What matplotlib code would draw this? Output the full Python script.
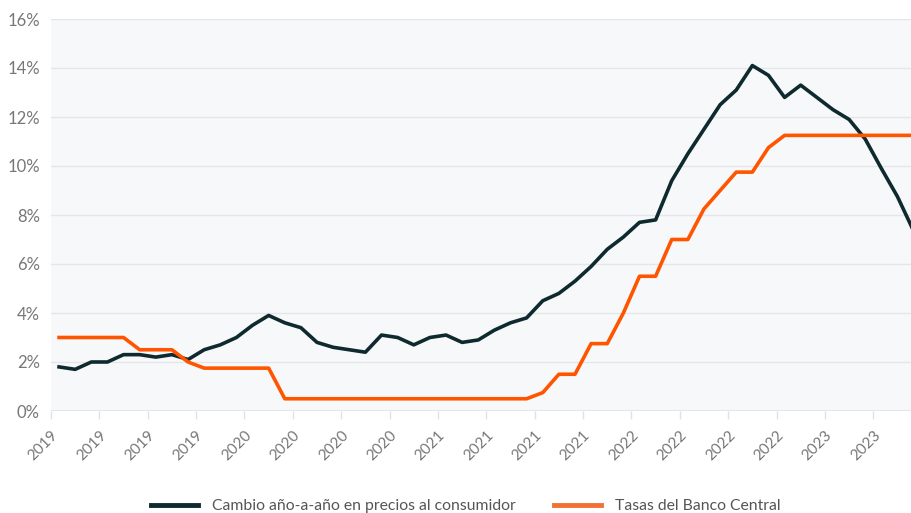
import matplotlib
matplotlib.use("Agg")
import matplotlib.pyplot as plt
from matplotlib.lines import Line2D
import numpy as np

plt.rcParams['font.family'] = ['Lato', 'DejaVu Sans']

# Monthly data, Jan 2019 onward
cpi = [1.8, 1.7, 2.0, 2.0, 2.3, 2.3, 2.2, 2.3, 2.1, 2.5, 2.7, 3.0,
       3.5, 3.9, 3.6, 3.4, 2.8, 2.6, 2.5, 2.4, 3.1, 3.0, 2.7, 3.0,
       3.1, 2.8, 2.9, 3.3, 3.6, 3.8, 4.5, 4.8, 5.3, 5.9, 6.6, 7.1,
       7.7, 7.8, 9.4, 10.5, 11.5, 12.5, 13.1, 14.1, 13.7, 12.8, 13.3, 12.8,
       12.3, 11.9, 11.1, 9.9, 8.75, 7.35]
rates = [3.0, 3.0, 3.0, 3.0, 3.0, 2.5, 2.5, 2.5, 2.0, 1.75, 1.75, 1.75,
         1.75, 1.75, 0.5, 0.5, 0.5, 0.5, 0.5, 0.5, 0.5, 0.5, 0.5, 0.5,
         0.5, 0.5, 0.5, 0.5, 0.5, 0.5, 0.75, 1.5, 1.5, 2.75, 2.75, 4.0,
         5.5, 5.5, 7.0, 7.0, 8.25, 9.0, 9.75, 9.75, 10.75, 11.25, 11.25, 11.25,
         11.25, 11.25, 11.25, 11.25, 11.25, 11.25]
tick_labels = ['2019', '2019', '2019', '2019', '2020', '2020', '2020', '2020',
               '2021', '2021', '2021', '2021', '2022', '2022', '2022', '2022',
               '2023', '2023']
y_ticks = [0, 2, 4, 6, 8, 10, 12, 14, 16]
series_names = ['Cambio año-a-año en precios al consumidor', 'Tasas del Banco Central']

W, H = 911, 513
fig = plt.figure(figsize=(W / 100, H / 100), dpi=100)
fig.patch.set_facecolor('white')
ax = fig.add_axes([51 / W, 1 - 411 / H, (W - 51) / W, (411 - 19) / H])
ax.set_facecolor('#F7F8FA')

x = np.arange(len(cpi)) + 0.5
dark = '#0E2A2E'
orange = '#FF5500'
ax.plot(x, cpi, color=dark, lw=2.6, solid_joinstyle='round', zorder=3)
ax.plot(x, rates, color=orange, lw=2.6, solid_joinstyle='round', zorder=3)

ax.set_xlim(0, (W - 51.7) / 16.11)
ax.set_ylim(0, 16)
ax.set_yticks(y_ticks)
ax.set_yticklabels([f'{v}%' for v in y_ticks])
ax.set_xticks(np.arange(len(tick_labels)) * 3)
ax.set_xticklabels(tick_labels, rotation=45, ha='right', rotation_mode='anchor')

ax.grid(axis='y', color='#E4E6EA', lw=1)
ax.set_axisbelow(True)
for s in ax.spines.values():
    s.set_visible(False)
ax.tick_params(axis='y', length=0, pad=8, labelsize=12, labelcolor='#777777')
ax.tick_params(axis='x', length=6, width=1, color='#E0E2E6', pad=6,
               labelsize=11, labelcolor='#777777')
ax.axhline(0, color='#E0E2E6', lw=1.2, zorder=2)

handles = [Line2D([], [], color=dark, lw=3.5),
           Line2D([], [], color='#F27036', lw=3.5)]
fig.legend(handles, series_names, loc='center', bbox_to_anchor=(466 / W, 1 - 506 / H),
           ncol=2, frameon=False, fontsize=11.3, handlelength=3.0, columnspacing=2.4,
           handletextpad=0.9, labelcolor='#555555')

fig.savefig('out.png', dpi=100, facecolor='white')
